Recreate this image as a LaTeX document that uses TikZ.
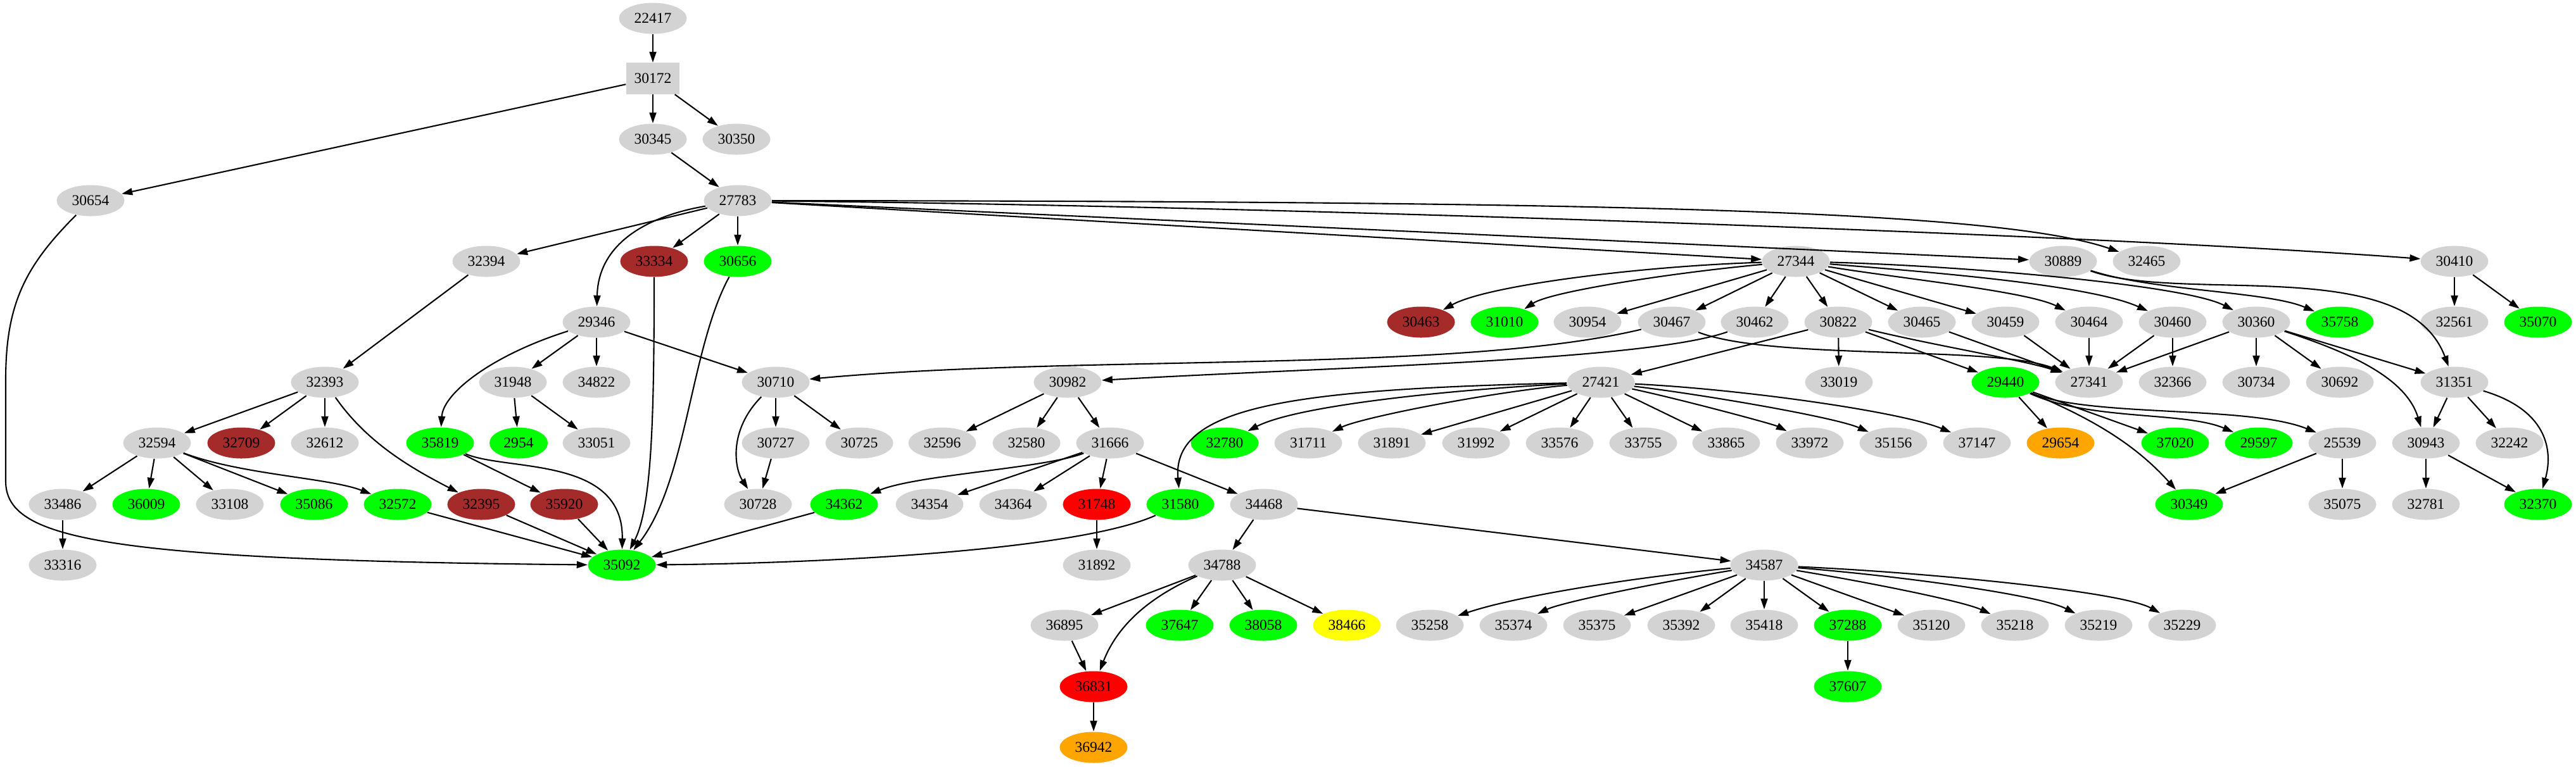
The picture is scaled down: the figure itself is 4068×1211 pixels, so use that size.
\documentclass[tikz,border=0pt]{standalone}
\usepackage{fontspec}
\setmainfont{Liberation Serif}
\usetikzlibrary{arrows.meta, shapes.geometric}

\begin{document}
\begin{tikzpicture}[x=0.01cm, y=-0.01cm,
    idNode/.style={ellipse, fill=\col, minimum width=\nodeWidth, minimum height=\nodeHeight, inner sep=0pt, font=\fontsize{6.7}{8}\selectfont},
    idEdge/.style={line width=0.6pt, -{Triangle[length=0.17cm,width=0.11cm]}}]
    % Define node size
    \def\nodeWidth{1.07cm}
    \def\nodeHeight{0.49cm}
    \def\col{greyColour}

    \definecolor{greyColour}{HTML}{D3D3D3}
    \definecolor{greenColour}{HTML}{00FF00}
    \definecolor{brownColour}{HTML}{A52A2A}
    \definecolor{redColour}{HTML}{FF0000}
    \definecolor{orangeColour}{HTML}{FFA500}
    \definecolor{yellowColour}{HTML}{FFFF00}

    \useasboundingbox (0,0) rectangle (4068,1211);

    % Draw the top of the tree
    \node[idNode] (n22417) at (1031,29) {22417};
    \node[idNode, rectangle, minimum width=0.84cm] (n30172) at (1031,124) {30172};
    \foreach \name/\x/\col in {30345/1031/greyColour, 30350/1163/greyColour}
        \node[idNode] (n\name) at (\x,220) {\name};
    \foreach \name/\x/\col in {30654/143/greyColour, 27783/1165/greyColour}
        \node[idNode] (n\name) at (\x,317) {\name};

    % Draw the rows below
    \foreach \name/\x/\col in {32394/768/greyColour, 33334/1033/brownColour, 30656/1165/greenColour,
            27344/2836/greyColour, 30889/3258/greyColour, 32465/3390/greyColour, 30410/3876/greyColour}
        \node[idNode] (n\name) at (\x,413) {\name};
    \foreach \name/\x/\col in {29346/942/greyColour, 30463/2244/brownColour, 31010/2376/greenColour,
            30954/2507/greyColour, 30467/2640/greyColour, 30462/2771/greyColour, 30822/2903/greyColour,
            30465/3035/greyColour, 30459/3167/greyColour, 30464/3299/greyColour, 30460/3431/greyColour,
            30360/3563/greyColour, 35758/3695/greenColour, 32561/3876/greyColour, 35070/4008/greenColour}
        \node[idNode] (n\name) at (\x,509) {\name};
    \foreach \name/\x/\col in {32393/513/greyColour, 31948/810/greyColour, 34822/942/greyColour,
            30710/1225/greyColour, 30982/1686/greyColour, 27421/2528/greyColour, 33019/2904/greyColour,
            29440/3167/greenColour, 27341/3299/greyColour, 32366/3431/greyColour, 30734/3563/greyColour,
            30692/3695/greyColour, 31351/3876/greyColour}
        \node[idNode] (n\name) at (\x,604) {\name};
    \foreach \name/\x/\col in {32594/248/greyColour, 32709/381/brownColour, 32612/513/greyColour,
            35819/695/greenColour, 33051/942/greyColour, 30727/1225/greyColour, 30725/1357/greyColour,
            32596/1488/greyColour, 32580/1621/greyColour, 31666/1753/greyColour, 32780/1934/greenColour,
            31711/2066/greyColour, 31891/2198/greyColour, 31992/2331/greyColour, 33576/2463/greyColour,
            33755/2595/greyColour, 33865/2726/greyColour, 33972/2858/greyColour, 35156/2990/greyColour,
            37147/3122/greyColour, 29654/3254/orangeColour, 37020/3435/greenColour, 29597/3567/greenColour,
            25539/3699/greyColour, 30943/3831/greyColour, 32242/3963/greyColour}
        \node[idNode] (n\name) at (\x,700) {\name};
    \node[idNode, fill=greenColour, minimum width=0.92cm] (n2954) at (819,700) {2954};
    \foreach \name/\x/\col in {33486/99/greyColour, 36009/231/greenColour, 33108/363/greyColour,
            35086/496/greenColour, 32572/628/greenColour, 32395/760/brownColour, 35920/891/brownColour,
            30728/1197/greyColour, 34362/1333/greenColour, 34354/1468/greyColour, 34364/1600/greyColour,
            31748/1732/redColour, 31580/1864/greenColour, 34468/1996/greyColour, 30349/3457/greenColour,
            35075/3699/greyColour, 32781/3831/greyColour, 32370/4008/greenColour}
        \node[idNode] (n\name) at (\x,797) {\name};
    \foreach \name/\x/\col in {33316/99/greyColour, 35092/982/greenColour, 31892/1732/greyColour,
            34788/1930/greyColour, 34587/2786/greyColour}
        \node[idNode] (n\name) at (\x,893) {\name};
    \foreach \name/\x/\col in {36895/1681/greyColour, 37647/1863/greenColour, 38058/1995/greenColour,
            38466/2127/yellowColour, 35258/2258/greyColour, 35374/2390/greyColour, 35375/2522/greyColour,
            35392/2655/greyColour, 35418/2786/greyColour, 37288/2918/greenColour, 35120/3050/greyColour,
            35218/3182/greyColour, 35219/3314/greyColour, 35229/3446/greyColour}
        \node[idNode] (n\name) at (\x,988) {\name};
    \foreach \name/\x/\col in {36831/1727/redColour, 37607/2918/greenColour}
        \node[idNode] (n\name) at (\x,1085) {\name};
    \node[idNode, fill=orangeColour] (n36942) at (1727,1181) {36942};

    % Draw straight edges
    \foreach \from/\to in {22417/30172, 30172/30654, 30172/30345, 30172/30350, 30345/27783,
            27783/32394, 27783/33334, 27783/30656, 27783/27344, 27783/30889, 32394/32393,
            29346/31948, 29346/34822, 29346/30710, 32393/32594, 32393/32709, 32393/32612,
            31948/2954, 31948/33051, 30710/30727, 30710/30725, 30727/30728,
            32594/33486, 32594/36009, 32594/33108, 32594/35086, 33486/33316, 35819/35920,
            32572/35092, 32395/35092, 35920/35092, 34362/35092,
            27344/30954, 27344/30467, 27344/30462, 27344/30822, 27344/30465, 27344/30459,
            30822/33019, 30822/29440, 30822/27421,
            30465/27341, 30459/27341, 30464/27341, 30460/27341, 30460/32366,
            30360/27341, 30360/30734, 30360/30692, 30360/31351, 30410/32561, 30410/35070,
            31351/30943, 31351/32242, 30943/32781, 30943/32370,
            29440/29654, 29440/37020, 25539/30349, 25539/35075,
            27421/31891, 27421/31992, 27421/33576, 27421/33755, 27421/33865,
            30982/32596, 30982/32580, 30982/31666,
            31666/34354, 31666/34364, 31666/31748, 31666/34468, 31748/31892,
            34468/34788, 34468/34587,
            34788/36895, 34788/37647, 34788/38058, 34788/38466, 36895/36831, 36831/36942,
            34587/35375, 34587/35392, 34587/35418, 34587/37288, 34587/35120, 37288/37607}
        \draw[idEdge] (n\from) -- (n\to);

    % Draw curved edges
    \coordinate (leftTop) at (9,600);
    \coordinate (leftLow) at (9,760);
    \draw[idEdge] (n30654) .. controls (40,420) and (9,480) .. (leftTop) -- (leftLow)
        .. controls (9,850) and (150,885) .. (n35092);
    \draw[idEdge] (n33334) .. controls (1033,650) and (1030,800) .. (n35092);
    \draw[idEdge] (n30656) .. controls (1090,550) and (1085,760) .. (n35092);
    \draw[idEdge] (n35819) .. controls (800,745) and (985,720) .. (n35092);
    \draw[idEdge] (n31580) .. controls (1700,870) and (1300,890) .. (n35092);
    \draw[idEdge] (n27783) .. controls (1030,340) and (945,380) .. (n29346);
    \draw[idEdge] (n27783) .. controls (2500,318) and (3150,330) .. (n32465);
    \draw[idEdge] (n27783) .. controls (2000,325) and (3300,370) .. (n30410);
    \draw[idEdge] (n29346) .. controls (780,560) and (700,620) .. (n35819);
    \draw[idEdge] (n32393) .. controls (580,700) and (650,740) .. (n32395);
    \draw[idEdge] (n32594) .. controls (380,750) and (520,755) .. (n32572);
    \draw[idEdge] (n30710) .. controls (1150,680) and (1160,740) .. (n30728);

    \draw[idEdge] (n27344) .. controls (2600,420) and (2350,450) .. (n30463);
    \draw[idEdge] (n27344) .. controls (2650,430) and (2450,460) .. (n31010);
    \draw[idEdge] (n27344) .. controls (3000,440) and (3200,460) .. (n30464);
    \draw[idEdge] (n27344) .. controls (3050,430) and (3300,450) .. (n30460);
    \draw[idEdge] (n27344) .. controls (3100,420) and (3450,450) .. (n30360);
    \draw[idEdge] (n30467) .. controls (2300,590) and (1700,560) .. (n30710);
    \draw[idEdge] (n30462) .. controls (2600,570) and (2100,580) .. (n30982);
    \draw[idEdge] (n30467) .. controls (2800,570) and (3150,545) .. (n27341);
    \draw[idEdge] (n30822) .. controls (3050,545) and (3200,570) .. (n27341);
    \draw[idEdge] (n30889) .. controls (3400,460) and (3580,460) .. (n35758);
    \draw[idEdge] (n30889) .. controls (3450,480) and (3800,400) .. (n31351);
    \draw[idEdge] (n30360) .. controls (3720,560) and (3800,600) .. (n30943);
    \draw[idEdge] (n31351) .. controls (4030,650) and (4030,720) .. (n32370);

    \draw[idEdge] (n29440) .. controls (3300,660) and (3370,700) .. (n30349);
    \draw[idEdge] (n29440) .. controls (3300,665) and (3450,650) .. (n29597);
    \draw[idEdge] (n29440) .. controls (3300,660) and (3550,640) .. (n25539);

    \draw[idEdge] (n27421) .. controls (2050,615) and (1850,640) .. (n31580);
    \draw[idEdge] (n27421) .. controls (2300,615) and (2050,640) .. (n32780);
    \draw[idEdge] (n27421) .. controls (2350,620) and (2150,660) .. (n31711);
    \draw[idEdge] (n27421) .. controls (2650,630) and (2800,670) .. (n33972);
    \draw[idEdge] (n27421) .. controls (2700,625) and (2900,660) .. (n35156);
    \draw[idEdge] (n27421) .. controls (2750,615) and (3000,650) .. (n37147);
    \draw[idEdge] (n31666) .. controls (1650,740) and (1450,750) .. (n34362);
    \draw[idEdge] (n34788) .. controls (1800,950) and (1760,1000) .. (n36831);

    \draw[idEdge] (n34587) .. controls (2600,910) and (2400,940) .. (n35258);
    \draw[idEdge] (n34587) .. controls (2650,915) and (2470,950) .. (n35374);
    \draw[idEdge] (n34587) .. controls (2950,920) and (3100,950) .. (n35218);
    \draw[idEdge] (n34587) .. controls (3000,910) and (3220,940) .. (n35219);
    \draw[idEdge] (n34587) .. controls (3050,905) and (3350,935) .. (n35229);

\end{tikzpicture}
\end{document}
